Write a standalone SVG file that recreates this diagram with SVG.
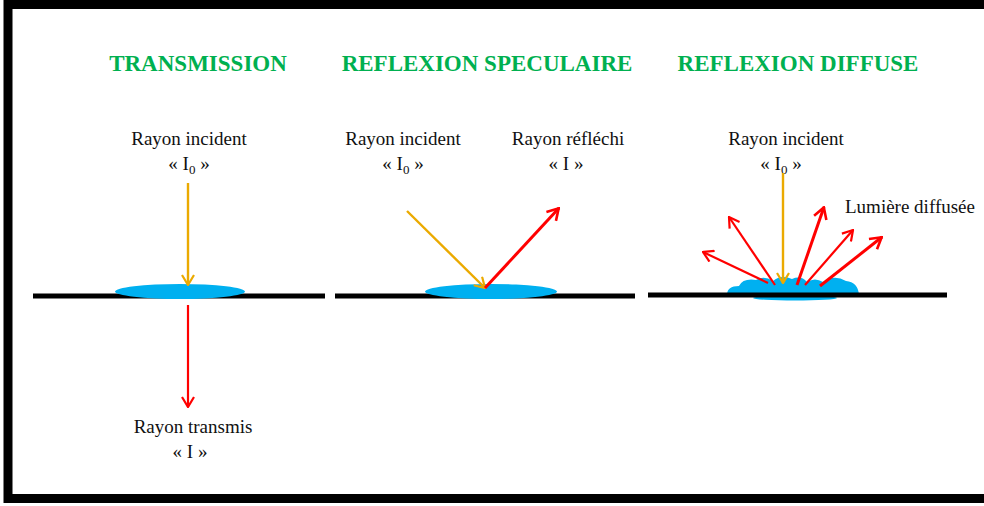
<svg xmlns="http://www.w3.org/2000/svg" width="984" height="506" viewBox="0 0 984 506">
<style>
.title{font-family:"Liberation Serif","Times New Roman",serif;font-weight:bold;font-size:23px;fill:#00B050;text-anchor:middle}
.lbl{font-family:"Liberation Serif","Times New Roman",serif;font-size:19px;fill:#111;text-anchor:middle}
.sub{font-size:13px}
.ground{stroke:#000;stroke-width:5}
.drop{fill:#00B0F0}
.inc{stroke:#EBAA00;stroke-width:2.4;fill:none}
.ref{stroke:#FF0000;stroke-width:2.2;fill:none}
.refb{stroke:#FF0000;stroke-width:3;fill:none}
</style>
<defs>
<marker id="ao" viewBox="0 0 12 14" refX="11" refY="7" markerWidth="12" markerHeight="14" markerUnits="userSpaceOnUse" orient="auto">
<path d="M1,1 L11,7 L1,13" fill="none" stroke="#EBAA00" stroke-width="2.2"/>
</marker>
<marker id="ar" viewBox="0 0 12 14" refX="11" refY="7" markerWidth="12" markerHeight="14" markerUnits="userSpaceOnUse" orient="auto">
<path d="M1,1 L11,7 L1,13" fill="none" stroke="#FF0000" stroke-width="2.2"/>
</marker>
<marker id="arb" viewBox="0 0 14 16" refX="13" refY="8" markerWidth="14" markerHeight="16" markerUnits="userSpaceOnUse" orient="auto">
<path d="M1.5,1.5 L12.5,8 L1.5,14.5" fill="none" stroke="#FF0000" stroke-width="2.6"/>
</marker>
</defs>
<rect x="0" y="0" width="984" height="506" fill="#fff"/>
<rect x="8" y="4.5" width="1000" height="494" fill="none" stroke="#000" stroke-width="9"/>

<g id="transmission">
<text class="title" x="198" y="71">TRANSMISSION</text>
<text class="lbl" x="189" y="145">Rayon incident</text>
<text class="lbl" x="189" y="170">« I<tspan class="sub" dy="4">0</tspan><tspan dy="-4"> »</tspan></text>
<line class="ground" x1="33" y1="296" x2="325" y2="296"/>
<ellipse class="drop" cx="180" cy="291.5" rx="65" ry="7.5"/>
<text class="lbl" x="193" y="433">Rayon transmis</text>
<text class="lbl" x="190" y="458">« I »</text>
</g>

<g id="speculaire">
<text class="title" x="487" y="71">REFLEXION SPECULAIRE</text>
<text class="lbl" x="403" y="145">Rayon incident</text>
<text class="lbl" x="403" y="170">« I<tspan class="sub" dy="4">0</tspan><tspan dy="-4"> »</tspan></text>
<text class="lbl" x="568" y="145">Rayon réfléchi</text>
<text class="lbl" x="566" y="170">« I »</text>
<line class="ground" x1="335" y1="296" x2="635" y2="296"/>
<ellipse class="drop" cx="491" cy="291.5" rx="66" ry="7.5"/>
</g>

<g id="diffuse">
<text class="title" x="798" y="71">REFLEXION DIFFUSE</text>
<text class="lbl" x="786" y="145">Rayon incident</text>
<text class="lbl" x="781" y="170">« I<tspan class="sub" dy="4">0</tspan><tspan dy="-4"> »</tspan></text>
<text class="lbl" x="910" y="213">Lumière diffusée</text>
<ellipse class="drop" cx="795" cy="298" rx="42" ry="2.5"/>
<path class="drop" d="M727,295 Q727,286 739,286 Q743,278 756,280 Q764,275 773,281 Q781,274 792,279 Q801,275 807,282 Q815,277 823,282 Q834,274 846,281 Q858,282 859,295 Z"/>
<line class="ground" x1="648" y1="295" x2="947" y2="295"/>
</g>

<g id="connectors">
<line class="inc" x1="188" y1="183" x2="188" y2="285" marker-end="url(#ao)"/>
<line class="ref" x1="188" y1="305" x2="188" y2="407" marker-end="url(#ar)"/>
<line class="inc" x1="407" y1="211" x2="485" y2="288" marker-end="url(#ao)"/>
<line class="refb" x1="485" y1="288" x2="559" y2="208" marker-end="url(#arb)"/>
<line class="inc" x1="783" y1="173" x2="783" y2="283" marker-end="url(#ao)"/>
<line class="ref" x1="775" y1="285" x2="729" y2="217" marker-end="url(#ar)"/>
<line class="ref" x1="768" y1="283" x2="703" y2="252" marker-end="url(#ar)"/>
<line class="refb" x1="797" y1="285" x2="824" y2="207" marker-end="url(#arb)"/>
<line class="ref" x1="805" y1="285" x2="853" y2="230" marker-end="url(#ar)"/>
<line class="refb" x1="820" y1="286" x2="882" y2="237" marker-end="url(#arb)"/>
</g>
</svg>
